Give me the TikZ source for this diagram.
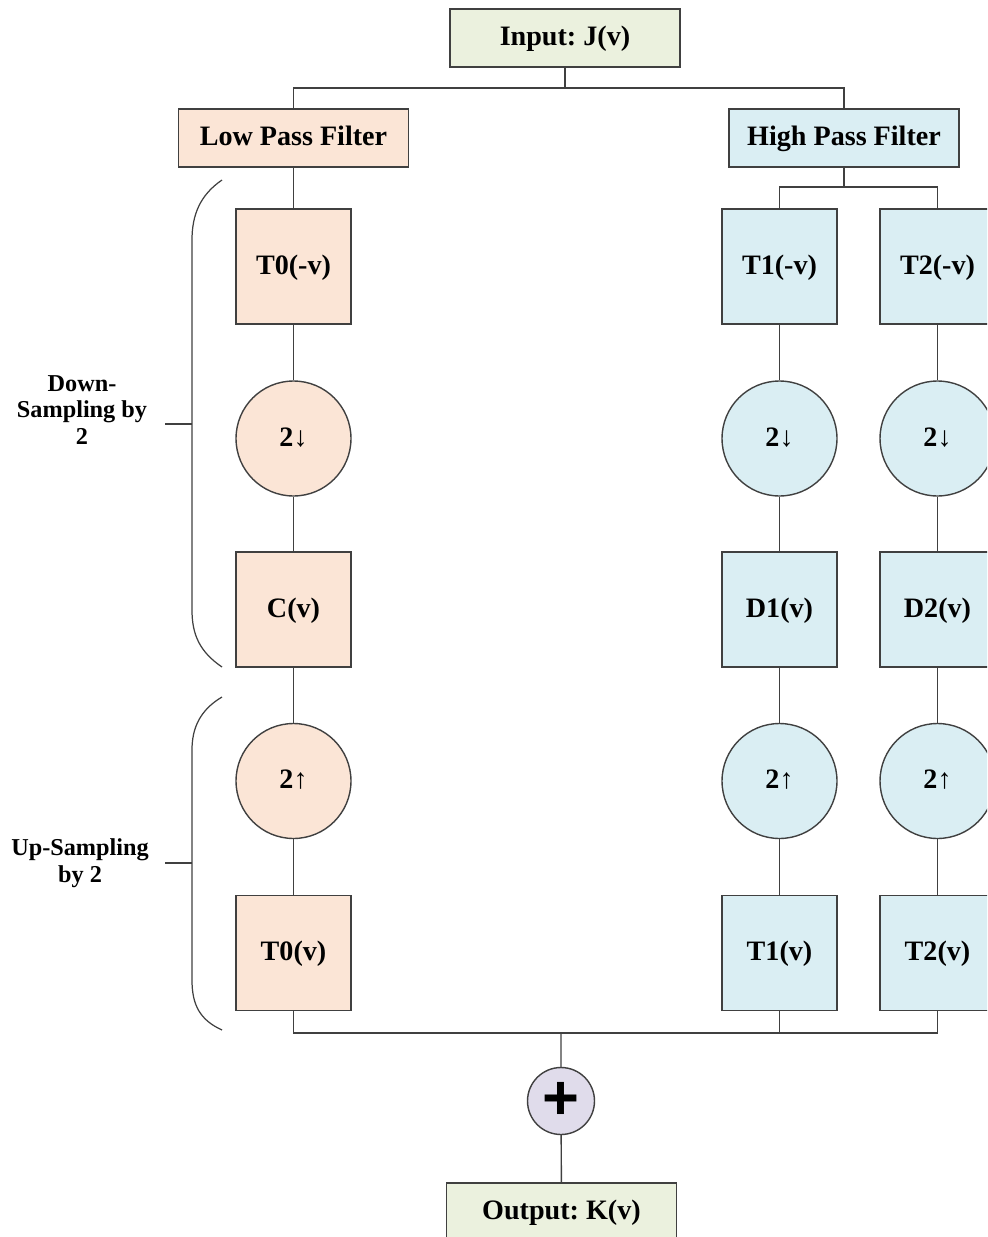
\documentclass[tikz,border=0pt]{standalone}
\usepackage{fontspec}
\setmainfont{Liberation Serif}
\setsansfont{Liberation Sans}
\usetikzlibrary{positioning,calc}
\frenchspacing
\definecolor{lowpeach}{HTML}{FBE5D6}
\definecolor{highblue}{HTML}{DAEEF3}
\definecolor{iogreen}{HTML}{EBF1DE}
\definecolor{sumlilac}{HTML}{E0DCEB}
\definecolor{wiregrey}{HTML}{404040}
\tikzset{
  blk/.style={draw=wiregrey, line width=0.8pt, fill=#1, minimum width=2.3cm,
              minimum height=2.3cm, inner sep=2pt, text height=11.5pt,
              text depth=2.5pt, font=\bfseries\fontsize{16}{18}\selectfont},
  smp/.style={circle, draw=wiregrey, line width=0.8pt, fill=#1,
              minimum size=2.3cm, inner sep=2pt, text height=11.5pt,
              text depth=2.5pt, font=\bfseries\fontsize{16}{18}\selectfont},
  flt/.style={draw=wiregrey, line width=0.8pt, fill=#1, minimum width=4.6cm,
              minimum height=1.16cm, inner sep=2pt, text height=11.5pt,
              text depth=2.5pt, font=\bfseries\fontsize{16}{18}\selectfont},
  wire/.style={draw=wiregrey, line width=0.8pt},
  brk/.style={draw=wiregrey, line width=0.7pt},
  side/.style={font=\bfseries\fontsize{13.8}{15.3}\selectfont, align=center},
}

\begin{document}
\begin{tikzpicture}[x=0.02cm, y=-0.02cm]
\useasboundingbox (0,0) rectangle (987,1237);
\clip (0,0) rectangle (987,1237);

% ---------------- input and the two filters ------------------------------
\node[flt=iogreen] (in) at (565,38) {Input: J(v)};
\node[flt=lowpeach] (lpf) at (293.5,138) {Low Pass Filter};
\node[flt=highblue] (hpf) at (844,138) {High Pass Filter};
\coordinate (split) at (565,88);
\draw[wire] (in) -- (split);
\draw[wire] (lpf.north) |- (split) -| (hpf.north);

% ---------------- low pass branch ----------------------------------------
\node[blk=lowpeach] (t0m) at (293.5,266.5) {T0(-v)};
\node[smp=lowpeach] (dn0) at (293.5,438.5) {2↓};
\node[blk=lowpeach] (c0)  at (293.5,609.5) {C(v)};
\node[smp=lowpeach] (up0) at (293.5,781)   {2↑};
\node[blk=lowpeach] (t0)  at (293.5,953)   {T0(v)};
\draw[wire] (lpf) -- (t0m) -- (dn0) -- (c0) -- (up0) -- (t0);

% ---------------- high pass branches -------------------------------------
\foreach \k/\cx in {1/779.5,2/937.5}{
  \node[blk=highblue] (t\k m) at (\cx,266.5) {T\k(-v)};
  \node[smp=highblue] (dn\k)  at (\cx,438.5) {2↓};
  \node[blk=highblue] (d\k)   at (\cx,609.5) {D\k(v)};
  \node[smp=highblue] (up\k)  at (\cx,781)   {2↑};
  \node[blk=highblue] (t\k)   at (\cx,953)   {T\k(v)};
  \draw[wire] (t\k m) -- (dn\k) -- (d\k) -- (up\k) -- (t\k);
}
\coordinate (hsplit) at (844,187);
\draw[wire] (hpf) -- (hsplit);
\draw[wire] (t1m.north) |- (hsplit) -| (t2m.north);

% ---------------- recombination ------------------------------------------
\node[circle, draw=wiregrey, line width=0.8pt, fill=sumlilac,
      minimum size=1.34cm, inner sep=0pt] (sum) at (561,1101)
      {\sffamily\bfseries\fontsize{36}{36}\selectfont +};
\node[flt=iogreen] (out) at (561.5,1212) {Output: K(v)};
\coordinate (join) at (561,1033);
\draw[wire] (t0.south) |- (join) -| (t2.south);
\draw[wire] (t1.south) -- (t1.south |- join);
\draw[wire] (join) -- (sum) -- (out);

% ---------------- side brackets ------------------------------------------
\draw[brk] (222,180) .. controls (200,195) and (192,215) .. (192,240)
  -- (192,610) .. controls (192,635) and (200,652) .. (222,667);
\draw[brk] (165,424) -- (192,424);
\node[side] (downlbl) at (82,410) {Down-\\Sampling by\\2};

\draw[brk] (222,697) .. controls (200,710) and (192,728) .. (192,750)
  -- (192,980) .. controls (192,1005) and (200,1020) .. (222,1030);
\draw[brk] (165,863) -- (192,863);
\node[side] (uplbl) at (80,863) {Up-Sampling\\by 2};
\end{tikzpicture}
\end{document}
